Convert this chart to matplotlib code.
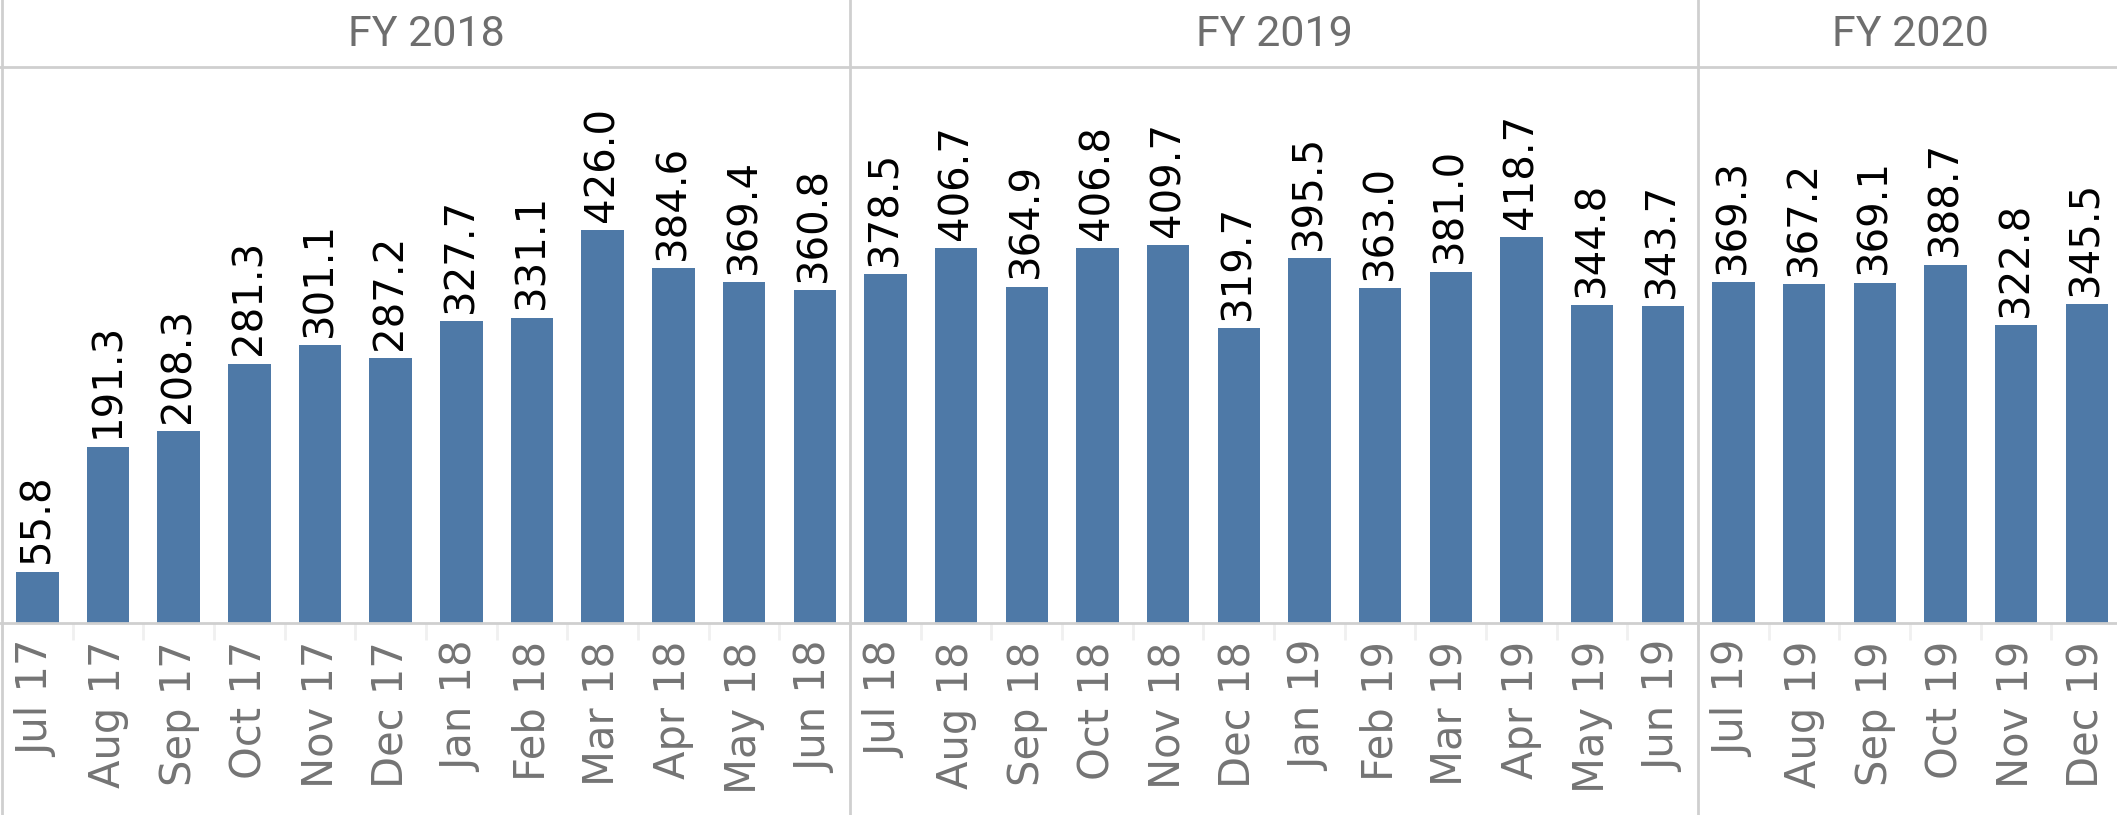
import numpy as np
import matplotlib.pyplot as plt
from matplotlib.lines import Line2D

months = ['Jul 17', 'Aug 17', 'Sep 17', 'Oct 17', 'Nov 17', 'Dec 17',
          'Jan 18', 'Feb 18', 'Mar 18', 'Apr 18', 'May 18', 'Jun 18',
          'Jul 18', 'Aug 18', 'Sep 18', 'Oct 18', 'Nov 18', 'Dec 18',
          'Jan 19', 'Feb 19', 'Mar 19', 'Apr 19', 'May 19', 'Jun 19',
          'Jul 19', 'Aug 19', 'Sep 19', 'Oct 19', 'Nov 19', 'Dec 19']
values = [55.8, 191.3, 208.3, 281.3, 301.1, 287.2,
          327.7, 331.1, 426.0, 384.6, 369.4, 360.8,
          378.5, 406.7, 364.9, 406.8, 409.7, 319.7,
          395.5, 363.0, 381.0, 418.7, 344.8, 343.7,
          369.3, 367.2, 369.1, 388.7, 322.8, 345.5]
fiscal_years = ['FY 2018', 'FY 2019', 'FY 2020']
fy_counts = [12, 12, 6]

W, H = 2117, 815
fig = plt.figure(figsize=(W / 100, H / 100), dpi=100)

def fx(px):
    return px / W

def fy(py):
    return 1 - py / H

left = 2
slot = 70.67
top_px, base_px = 67, 623
line_col = '#cfcfcf'

start = 0
x = left
dividers = [left]
for name, n in zip(fiscal_years, fy_counts):
    width = n * slot
    ax = fig.add_axes([fx(x), fy(base_px), width / W, (base_px - top_px) / H])
    vals = values[start:start + n]
    labs = months[start:start + n]
    pos = np.arange(n)
    ax.bar(pos, vals, width=0.6, color='#4e79a7')
    for p, v in zip(pos, vals):
        ax.annotate(f'{v:.1f}', (p, v), xytext=(0, 6), textcoords='offset points',
                    rotation=90, ha='center', va='bottom', fontsize=29, color='black')
    ax.set_xlim(-0.5, n - 0.5)
    ax.set_ylim(0, 603)
    ax.set_yticks([])
    ax.set_xticks(pos)
    ax.set_xticklabels(labs, rotation=90, fontsize=30, color='#747474', va='top')
    ax.set_xticks(np.arange(-0.5, n), minor=True)
    ax.tick_params(axis='x', which='major', length=0, pad=13)
    ax.tick_params(axis='x', which='minor', length=12, width=2, color='#f0f0f0')
    for s in ax.spines.values():
        s.set_visible(False)
    ax.patch.set_visible(False)
    fig.text(fx(x + width / 2), fy(35), name, ha='center', va='center',
             fontsize=31, color='#6e6e6e', family=['Roboto', 'DejaVu Sans'])
    start += n
    x += width
    dividers.append(x)

# frame lines
fig.add_artist(Line2D([0, 1], [fy(top_px), fy(top_px)], transform=fig.transFigure,
                      color=line_col, lw=2))
fig.add_artist(Line2D([0, 1], [fy(base_px), fy(base_px)], transform=fig.transFigure,
                      color=line_col, lw=2))
for d in dividers[:-1]:
    fig.add_artist(Line2D([fx(d), fx(d)], [0, 1], transform=fig.transFigure,
                          color=line_col, lw=2))

plt.savefig('out.png', dpi=100)
